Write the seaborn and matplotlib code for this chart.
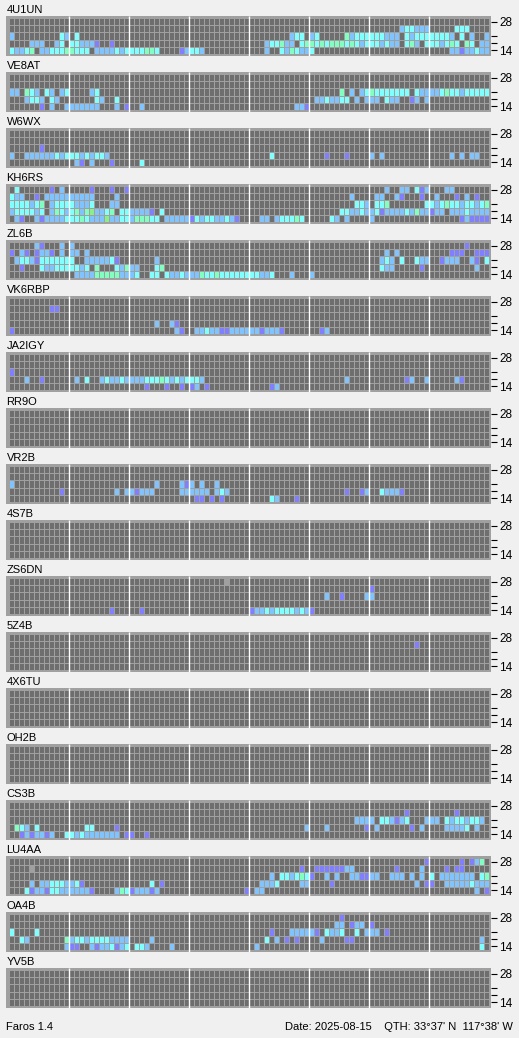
import pandas as pd
import matplotlib
matplotlib.use("Agg")
import matplotlib.pyplot as plt
from matplotlib.colors import ListedColormap
import seaborn as sns

# Bandas de arriba a abajo y marcas del eje derecho
bands = ["28", "24", "21", "18", "14"]
band_ticks = [0, 2, 3, 4]
band_labels = ["28", "", "", "14"]

# Codigos de cada celda: . sin senal, x sin dato, p/b/c/g/G nivel de senal
codes = ".xpbcgG"
colours = ["#6e6e6e", "#a0a0a0", "#8080ff", "#80c4ff", "#80ffff", "#80ffc0", "#88f088"]

E = "............"  # 3 horas vacias (12 intervalos de 15 min)

# Cada fila: 8 bloques de 3 horas, bandas 28, 24, 21, 18, 14
b_4U1UN = [
    [E, E, E, E, E, E, E, E],
    [E, E, E, E, E, E, "......bccbbb", ".....ccc...."],
    ["b.........cb", ".c..........", E, E, "........bcc.", "bc.....gbccc", "cccbbb.cbccc", "ccccb.c.b..b"],
    ["....bbb..bc.", "ccbbbp..p...", E, E, "...bccgbb.cg", "gcgcgggcgcbc", "ccbcbb.cgb.c", "ccbcgc.gc.bb"],
    ["cbbcg.bbcccg", "gccc.bbbbcbc", "cccggc....pb", "ccb.........", "...b..cbgcbb", "c...........", E, "....bbpbbcbb"],
]
b_VE8AT = [
    [E, E, E, E, E, E, E, E],
    [E, E, E, E, E, E, E, E],
    ["bb.gcb.cb.bc", "....bc......", E, E, E, "......g.b.bc", "gccccccc.cbb", "bbcgccbccccc"],
    ["...bccb.cb..", ".....cb..c..", E, E, E, ".bbcbbcc.b.b", "bb.cbb..pb.b", E],
    ["......p.b..b", "bbbbbb...b.p", "..b.........", E, ".........bbp", E, E, E],
]
b_W6WX = [
    [E, E, E, E, E, E, E, E],
    [E, E, E, E, E, E, E, E],
    ["......p.....", E, E, E, E, E, E, E],
    ["b..bbbbbbcbc", "ccbcbccb....", E, E, "....c.......", "...p...p....", "b.b.........", "....b.b.bb.."],
    [E, ".bp.b...p...", "..c.........", E, E, E, E, E],
]
b_KH6RS = [
    [".c......p.b.", "....p...p..p", E, E, E, E, "...b..bb.cpb", "...bb......."],
    ["cbb..p.bbbbb", "bbbbb....b..", E, E, E, "........b...", ".bb..bp...p.", ".b...p.b.p.."],
    ["ccccbcg.bccc", "cbbbc...bb..", E, E, E, ".........ccb", ".ccg.......c", "cbcgccbccbcg"],
    ["bccccbc.bgcb", "cgbgGbbcg.cc", "bbbbp.c.....", E, E, "......ccbbcb", "bcpbbbbcbgbb", "pbb.bbbcbbbb"],
    [".bp..bpbbbbc", "ccgcbbbGbbcc", "bgggcc.bbbbb", "pcbccbbcbp..", "..bb.bcccgc.", "....cb.b....", "b...........", "......pbpppp"],
]
b_ZL6B = [
    [".....bp...b.", "b...........", E, E, E, E, E, ".......p...."],
    ["p.bp.pbbp.b.", "bb.b........", E, E, E, E, "...b.b......", "....ppp..ppp"],
    [".bccbpcccccc", "c..bbbbbcp..", ".....b......", E, E, E, "..bcb.c..cbb", "..pbbb..bp.c"],
    ["..p...cbbccc", "ccbc.g...cbg", "bb...cg.....", E, E, E, "..cbb.....p.", ".........b.."],
    [E, ".bbbbgggggbb", "bc..cc.cbbcb", "bbgccgcccccc", "ccbbc...b...", "b...........", E, E],
]
b_VK6RBP = [
    [E, E, E, E, E, E, E, E],
    ["........pp..", E, E, E, E, E, E, E],
    [E, E, E, E, E, E, E, E],
    [E, E, ".....b..bp..", E, E, E, E, E],
    ["p...........", E, ".........bp.", ".bbcbbppbbbb", "bbpbbbp.....", "..pb........", E, E],
]
b_JA2IGY = [
    [E, E, E, E, E, E, E, E],
    [E, E, E, E, E, E, E, E],
    ["p...........", E, E, E, E, E, E, E],
    ["...b..p.....", ".b.c..bcbbcb", "bbbcccgcbcbc", "ccb.........", E, ".......b....", ".......pb..b", ".....bp....."],
    [E, E, "...p...p..p.", "pb.p........", "....pb......", E, E, E],
]
b_VR2B = [
    [E, E, E, E, E, E, E, E],
    [E, E, E, E, E, E, E, E],
    ["b...........", E, ".....b....bp", "b.b..b......", E, E, E, E],
    ["..........p.", ".........b.b", "bpbbb.....bb", "bbbb.bcb....", E, ".......p..pb", "..cbbbp.....", E],
    [E, E, E, ".pp.p.p.....", "....cb...p..", E, E, E],
]
b_ZS6DN = [
    [E, E, E, ".......x....", E, E, E, E],
    [E, E, E, E, E, E, "p...........", E],
    [E, E, E, E, E, "...b..p....b", "b...........", E],
    [E, E, E, E, E, E, E, E],
    [E, "........p...", "..p.........", E, "pbbcbccccbcb", "p...........", E, E],
]
b_5Z4B = [
    [E, E, E, E, E, E, E, E],
    [E, E, E, E, E, E, ".........p..", E],
    [E, E, E, E, E, E, E, E],
    [E, E, E, E, E, E, E, E],
    [E, E, E, E, E, E, E, E],
]
b_CS3B = [
    [E, E, E, E, E, E, E, E],
    [E, E, E, E, E, E, ".......p....", ".....p......"],
    [E, E, E, E, E, ".........bbb", "b.ccbpbc...b", "bb.cbccbccb."],
    [".gcb.c......", "...cc....p..", E, E, "...........b", "...b.......p", ".b......p.b.", "...bbbbc.b.."],
    ["..pbpbbpb..c", "cbcbbbbbbb.p", "p..p........", E, E, E, E, E],
]
b_LU4AA = [
    [E, E, E, E, E, E, "...........p", "......p.pbg."],
    ["....x.......", E, E, E, "..........p.", ".ppppppbb...", ".....p....b.", "...p.pp....."],
    [E, E, E, E, "....b.ccbcgc", "p..b.b..bbpp", "bb..bbb.b.b.", "c.bbbbbbb.cg"],
    ["....b.bbcccb", "bcp.........", "....c.p.....", E, "..bbbc....bb", "....p.......", ".........b.p", "p..bbbbbcbbb"],
    ["...cpbbpccbb", "bbbbp....bgc", "pbbbpb......", "...........p", ".bb.........", E, E, ".........b.p"],
]
b_OA4B = [
    [E, E, E, E, E, "......p.....", E, E],
    [E, E, E, E, E, ".....bb.pbb.", "p...........", E],
    ["c....c......", E, E, E, "....p...bbbb", "bp.cbbc..c.b", "bb.p........", E],
    ["..cb.......g", "bccbccccbbbb", "....b.......", E, "...c.b.p.p..", "..b....pp...", E, "..........b."],
    ["...........b", "pp..bpbbcpbc", ".ccb....b...", E, ".b..........", E, E, "..........c."],
]
b_empty = [[E] * 8 for _ in range(5)]

stations = ["4U1UN", "VE8AT", "W6WX", "KH6RS", "ZL6B", "VK6RBP", "JA2IGY", "RR9O", "VR2B",
            "4S7B", "ZS6DN", "5Z4B", "4X6TU", "OH2B", "CS3B", "LU4AA", "OA4B", "YV5B"]
data = [b_4U1UN, b_VE8AT, b_W6WX, b_KH6RS, b_ZL6B, b_VK6RBP, b_JA2IGY, b_empty, b_VR2B,
        b_empty, b_ZS6DN, b_5Z4B, b_empty, b_empty, b_CS3B, b_LU4AA, b_OA4B, b_empty]

sns.set_theme(style="white")
plt.rcParams["font.family"] = ["Liberation Sans", "DejaVu Sans"]
plt.rcParams["text.color"] = "black"
plt.rcParams["ytick.color"] = "black"
plt.rcParams["ytick.labelcolor"] = "black"

W, H = 519, 1038
fig = plt.figure(figsize=(W / 100, H / 100), dpi=100, facecolor="#f0f0f0")
cmap = ListedColormap(colours)

for i, (name, rows) in enumerate(zip(stations, data)):
    top = 16.3 + 56 * i
    ax = fig.add_axes([6.3 / W, 1 - (top + 39.4) / H, 484.7 / W, 39.4 / H])
    grid = pd.DataFrame(
        [[codes.index(ch) for ch in "".join(g.ljust(12, ".")[:12] for g in r)] for r in rows],
        index=bands,
    )
    sns.heatmap(grid, ax=ax, cmap=cmap, vmin=-0.5, vmax=len(codes) - 0.5, cbar=False,
                linewidths=0.7, linecolor="#a0a0a0", xticklabels=False, yticklabels=False)
    ax.set_facecolor("#a0a0a0")
    ax.vlines(range(12, 96, 12), -0.31, 5.31, color="white", lw=1.0)
    ax.set_xlim(-0.47, 96.47)
    ax.set_ylim(5.31, -0.31)
    ax.set_xticks([])
    ax.yaxis.tick_right()
    ax.set_yticks([t + 0.5 for t in band_ticks])
    ax.set_yticklabels(band_labels)
    ax.tick_params(axis="y", which="both", right=True, left=False, labelright=True,
                   labelleft=False, length=4, width=0.8, pad=2, labelsize=8.5,
                   color="black", labelcolor="black")
    fig.text(6.5 / W, 1 - (top - 3) / H, name, fontsize=8, color="black",
             ha="left", va="baseline")

fig.text(6.5 / W, 1 - 1030 / H, "Faros 1.4", fontsize=8, color="black",
         ha="left", va="baseline")
fig.text(513 / W, 1 - 1030 / H, "Date: 2025-08-15    QTH: 33°37' N  117°38' W",
         fontsize=8, color="black", ha="right", va="baseline")

fig.savefig("out.png", dpi=100, facecolor=fig.get_facecolor())
